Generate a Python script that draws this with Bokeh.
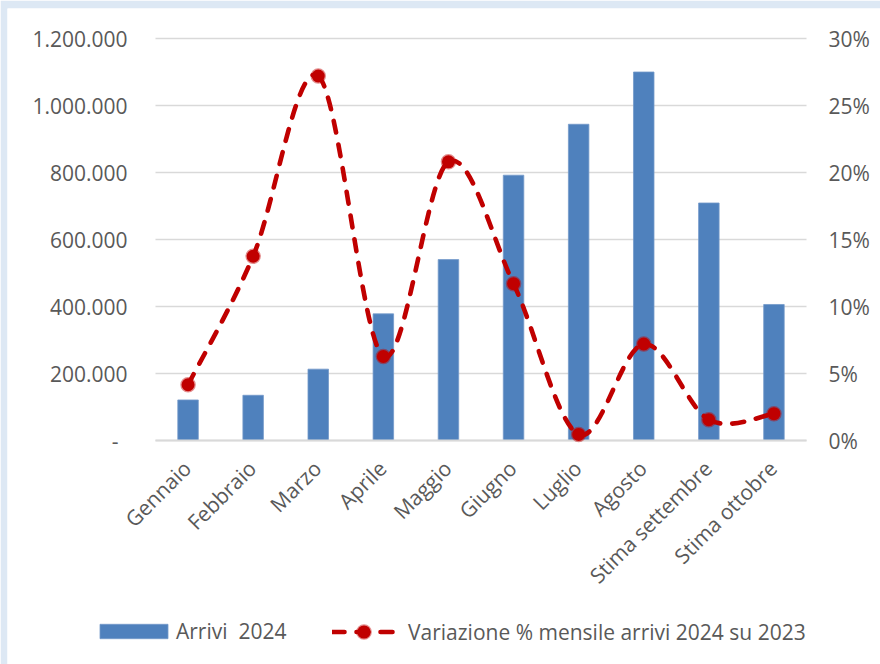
from math import pi
from bokeh.plotting import figure
from bokeh.models import (Range1d, Legend, LegendItem, ColumnDataSource)
from bokeh.core.properties import value
from bokeh.embed import file_html
from bokeh.resources import INLINE

# ---- data ----
months = ["Gennaio", "Febbraio", "Marzo", "Aprile", "Maggio", "Giugno",
          "Luglio", "Agosto", "Stima settembre", "Stima ottobre"]
arrivi_2024 = [121000, 135000, 213000, 378000, 540000, 792000,
               944000, 1100000, 709000, 406000]
variazione_pct = [0.0416, 0.1375, 0.272, 0.0627, 0.208, 0.117,
                  0.0045, 0.072, 0.0155, 0.020]
left_ticks = [0, 200000, 400000, 600000, 800000, 1000000, 1200000]
right_ticks = [0, 0.05, 0.10, 0.15, 0.20, 0.25, 0.30]
bar_label = "Arrivi  2024"
line_label = "Variazione % mensile arrivi 2024 su 2023"

# ---- styles / layout (page pixels) ----
FONT = "Open Sans"
FS = "21px"
TXT = "#595959"
GRID = "#d9d9d9"
BLUE = "#4f81bd"
RED = "#c00000"
BAND = "#dde8f4"
W, H = 880, 664
BL, BT = 7, 8                      # light-blue band left / top
PX_L, PX_R, PX_T, PX_0 = 155, 806, 38, 440   # plot-area edges

ncat = len(months)
ymax_l, ymax_r = left_ticks[-1], right_ticks[-1]
cat_px = (PX_R - PX_L) / ncat
yspan_px = PX_0 - PX_T
x_range = Range1d(-(PX_L - BL) / cat_px, (W - PX_L) / cat_px)
y_range = Range1d(-(H - PX_0) / yspan_px * ymax_l, ymax_l * (1 + (PX_T - BT) / yspan_px))
pct_range = Range1d(-(H - PX_0) / yspan_px * ymax_r, ymax_r * (1 + (PX_T - BT) / yspan_px))

p = figure(width=W, height=H, output_backend="svg", toolbar_location=None,
           x_range=x_range, y_range=y_range,
           x_axis_location=None, y_axis_location=None)
p.min_border = 0
p.min_border_left = BL
p.min_border_top = BT
p.min_border_right = 0
p.min_border_bottom = 0
p.extra_y_ranges = {"pct": pct_range}
p.outline_line_color = None
p.background_fill_color = "white"
p.border_fill_color = BAND
p.grid.visible = False

xs = [i + 0.5 for i in range(ncat)]

# gridlines (horizontal, across plot area)
p.segment(x0=[0] * len(left_ticks), x1=[ncat] * len(left_ticks),
          y0=left_ticks, y1=left_ticks, line_color=GRID, line_width=1.6)

# bars
src = ColumnDataSource(dict(x=xs, top=arrivi_2024))
bars = p.vbar(x="x", top="top", bottom=0, width=0.315, source=src,
              fill_color=BLUE, line_color="#7399c9", line_width=0.8)

# baseline
p.segment(x0=[0], x1=[ncat], y0=[left_ticks[0]], y1=[left_ticks[0]],
          line_color=GRID, line_width=2)

# smooth (Excel-like) curve through the data points, drawn as bezier segments
n = len(xs)
x0, y0, x1, y1, cx0, cy0, cx1, cy1 = [], [], [], [], [], [], [], []
for i in range(n - 1):
    pa = (xs[max(i - 1, 0)], variazione_pct[max(i - 1, 0)])
    pb = (xs[i], variazione_pct[i])
    pc = (xs[i + 1], variazione_pct[i + 1])
    pd = (xs[min(i + 2, n - 1)], variazione_pct[min(i + 2, n - 1)])
    x0.append(pb[0]); y0.append(pb[1]); x1.append(pc[0]); y1.append(pc[1])
    cx0.append(pb[0] + (pc[0] - pa[0]) / 6.0)
    cy0.append(pb[1] + (pc[1] - pa[1]) / 6.0)
    cx1.append(pc[0] - (pd[0] - pb[0]) / 6.0)
    cy1.append(pc[1] - (pd[1] - pb[1]) / 6.0)
bsrc = ColumnDataSource(dict(x0=x0, y0=y0, x1=x1, y1=y1,
                             cx0=cx0, cy0=cy0, cx1=cx1, cy1=cy1))
curve = p.bezier(x0="x0", y0="y0", x1="x1", y1="y1", cx0="cx0", cy0="cy0",
                 cx1="cx1", cy1="cy1", source=bsrc, y_range_name="pct",
                 line_color=RED, line_width=4.6, line_dash="12 12",
                 line_cap="round")
msrc = ColumnDataSource(dict(x=xs, y=variazione_pct))
marks = p.scatter(x="x", y="y", source=msrc, y_range_name="pct", size=13,
                  fill_color=RED, line_color=RED, line_alpha=0.45,
                  line_width=2.5)

txt_kw = dict(text_font=value(FONT), text_font_size=value(FS), text_color=TXT)

# left tick labels
left_labels = [f"{t:,}".replace(",", ".") if t else "-\u00a0\u2009" for t in left_ticks]
p.text(x=[0] * len(left_ticks), y=left_ticks, text=left_labels,
       x_offset=-28, text_align="right", text_baseline="middle", **txt_kw)

# right tick labels
right_labels = [f"{round(t * 100)}%" for t in right_ticks]
p.text(x=[ncat] * len(right_ticks), y=right_ticks, text=right_labels,
       y_range_name="pct", x_offset=22, text_align="left",
       text_baseline="middle", **txt_kw)

# category labels (rotated 45°)
p.text(x=xs, y=[left_ticks[0]] * ncat, text=months, angle=pi / 4,
       x_offset=-1, y_offset=24, text_align="right", text_baseline="middle",
       **txt_kw)


def make_legend(item, loc, gw, gh, standoff):
    lg = Legend(items=[item], orientation="horizontal", location=loc)
    lg.padding = 0
    lg.margin = 0
    lg.label_standoff = standoff
    lg.glyph_width = gw
    lg.glyph_height = gh
    lg.label_height = 28
    lg.border_line_color = None
    lg.background_fill_alpha = 0
    lg.label_text_font = FONT
    lg.label_text_font_size = FS
    lg.label_text_color = TXT
    return lg


p.add_layout(make_legend(LegendItem(label=bar_label, renderers=[bars]),
                         (84, 19), 85, 18, 0))
p.add_layout(make_legend(LegendItem(label=line_label, renderers=[curve, marks]),
                         (325, 16), 63, 33, 13))

open("out.html", "w").write(file_html(p, INLINE))
